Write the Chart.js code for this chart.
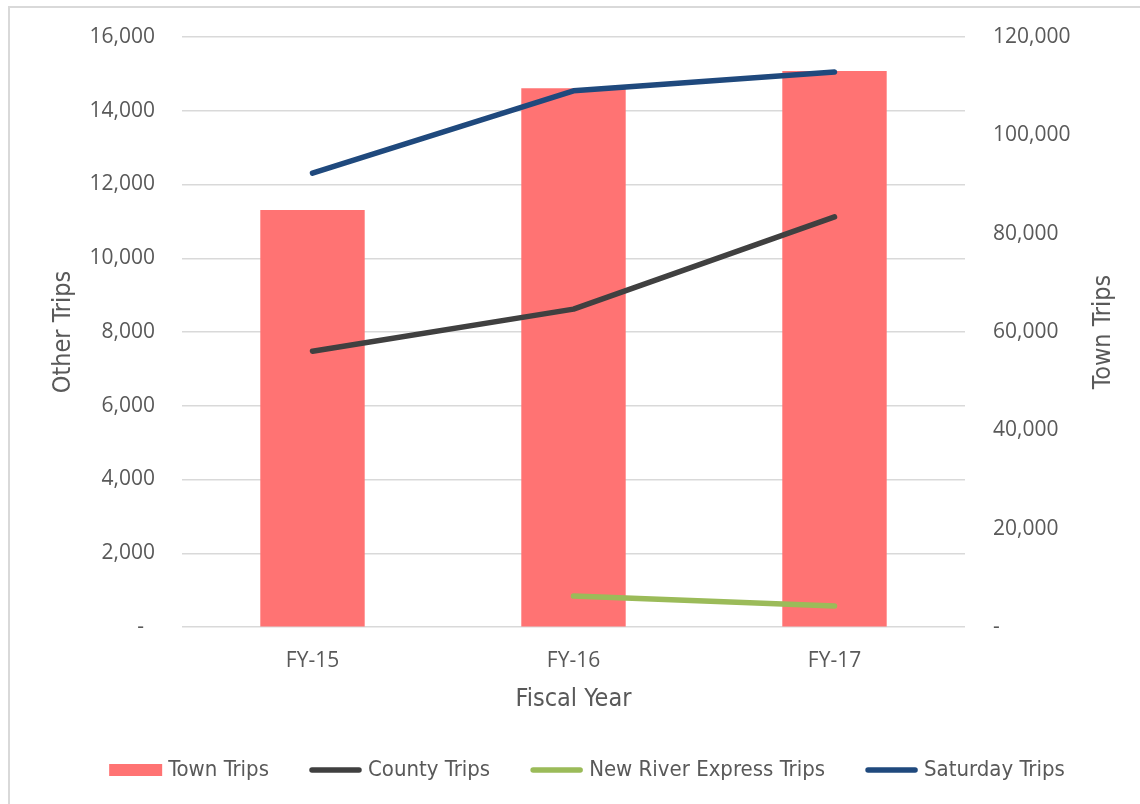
<!DOCTYPE html>
<html>
<head>
<meta charset="utf-8">
<script src="https://cdn.jsdelivr.net/npm/chart.js@4/dist/chart.umd.min.js"></script>
<style>
  html, body { margin: 0; padding: 0; background: #fff; overflow: hidden; }
  #wrap { position: relative; width: 1140px; height: 804px; }
  #frame { position: absolute; left: 8px; top: 6px; width: 1200px; height: 900px;
           border: 2px solid #d9d9d9; box-sizing: border-box; pointer-events: none; }
  canvas { position: absolute; left: 0; top: 0; }
</style>
</head>
<body>
<div id="wrap">
  <canvas id="chart" width="1140" height="804"></canvas>
  <div id="frame"></div>
</div>
<script>
// values
const years = ["FY-15", "FY-16", "FY-17"];
const townTrips = [84800, 109600, 113100];      // right axis
const countyTrips = [7480, 8620, 11120];        // left axis
const newRiverTrips = [null, 840, 570];
const saturdayTrips = [12310, 14540, 15050];

const leftTicks = [0, 2000, 4000, 6000, 8000, 10000, 12000, 14000, 16000];
const rightTicks = [0, 20000, 40000, 60000, 80000, 100000, 120000];

const tickFont = { family: "'Open Sans', 'Noto Sans', sans-serif", size: 21 };
const titleFont = { family: "'Liberation Sans Narrow', 'DejaVu Sans Condensed', sans-serif", size: 25 };
const legendFontSize = 22;
const grey = "#595959";

const fmt = (v) => v.toLocaleString("en-US");

const lineSet = (label, data, color) => ({
  type: "line",
  label: label,
  data: data,
  yAxisID: "y",
  borderColor: color,
  backgroundColor: color,
  borderWidth: 5.5,
  borderCapStyle: "round",
  borderJoinStyle: "round",
  pointRadius: 0,
  tension: 0,
  order: 0,
});

// right axis title reads bottom-to-top, like the left one
const rightTitle = {
  id: "rightTitle",
  afterDraw(chart) {
    const s = chart.scales.y1;
    const ctx = chart.ctx;
    ctx.save();
    ctx.translate(1103, (s.top + s.bottom) / 2);
    ctx.rotate(-Math.PI / 2);
    ctx.fillStyle = grey;
    ctx.font = titleFont.size + "px " + titleFont.family;
    ctx.textAlign = "center";
    ctx.textBaseline = "middle";
    ctx.fillText("Town Trips", 0, 0);
    ctx.restore();
  },
};

// excel-style legend: wide swatch, small gap, then the label
const excelLegend = {
  id: "excelLegend",
  afterDraw(chart) {
    const ctx = chart.ctx;
    const sw = 53, gap = 6, itemGap = 40, y = 770;
    ctx.save();
    ctx.font = legendFontSize + "px " + titleFont.family;
    const items = chart.data.datasets.map((d) => ({
      text: d.label,
      color: d.type === "bar" ? d.backgroundColor : d.borderColor,
      bar: d.type === "bar",
      w: ctx.measureText(d.label).width,
    }));
    let total = items.reduce((a, it) => a + sw + gap + it.w, 0) + itemGap * (items.length - 1);
    let x = 587 - total / 2;
    ctx.textBaseline = "middle";
    ctx.textAlign = "left";
    items.forEach((it) => {
      if (it.bar) {
        ctx.fillStyle = it.color;
        ctx.fillRect(x, y - 6, sw, 12);
      } else {
        ctx.strokeStyle = it.color;
        ctx.lineWidth = 5.5;
        ctx.lineCap = "round";
        ctx.beginPath();
        ctx.moveTo(x + 3, y);
        ctx.lineTo(x + sw - 3, y);
        ctx.stroke();
      }
      ctx.fillStyle = grey;
      ctx.fillText(it.text, x + sw + gap, y);
      x += sw + gap + it.w + itemGap;
    });
    ctx.restore();
  },
};

new Chart(document.getElementById("chart"), {
  data: {
    labels: years,
    datasets: [
      {
        type: "bar",
        label: "Town Trips",
        data: townTrips,
        yAxisID: "y1",
        backgroundColor: "#ff7373",
        borderWidth: 0,
        categoryPercentage: 1,
        barPercentage: 0.4,
        order: 1,
      },
      lineSet("County Trips", countyTrips, "#404040"),
      lineSet("New River Express Trips", newRiverTrips, "#9bbb59"),
      lineSet("Saturday Trips", saturdayTrips, "#1f497d"),
    ],
  },
  plugins: [rightTitle, excelLegend],
  options: {
    responsive: false,
    animation: false,
    layout: { autoPadding: false, padding: { top: 37, bottom: 76, left: 0, right: 0 } },
    plugins: {
      tooltip: { enabled: false },
      legend: { display: false },
    },
    scales: {
      x: {
        grid: { display: false },
        border: { display: false },
        ticks: { color: grey, font: tickFont, padding: 13 },
        title: { display: true, text: "Fiscal Year", color: grey, font: titleFont, padding: { top: 0, bottom: 14 } },
        afterFit: (s) => { s.height = 101; },
      },
      y: {
        position: "left",
        min: 0,
        max: 16000,
        afterBuildTicks: (s) => { s.ticks = leftTicks.map((v) => ({ value: v })); },
        // invisible tick marks hold the gap between labels and plot
        grid: { color: "#d9d9d9", lineWidth: 1.5, drawTicks: true, tickLength: 27, tickColor: "rgba(0,0,0,0)" },
        border: { display: false },
        ticks: {
          color: grey, font: tickFont, padding: 0,
          callback: (v) => (v === 0 ? "-  " : fmt(v)),
        },
        title: { display: true, text: "Other Trips", color: grey, font: titleFont, padding: { top: 48 } },
        afterFit: (s) => { s.width = 182; },
      },
      y1: {
        position: "right",
        min: 0,
        max: 120000,
        afterBuildTicks: (s) => { s.ticks = rightTicks.map((v) => ({ value: v })); },
        grid: { display: true, drawOnChartArea: false, drawTicks: true, tickLength: 28, tickColor: "rgba(0,0,0,0)" },
        border: { display: false },
        ticks: {
          color: grey, font: tickFont, padding: 0,
          callback: (v) => (v === 0 ? "-" : fmt(v)),
        },
        title: { display: false },
        afterFit: (s) => { s.width = 175; },
      },
    },
  },
});
</script>
</body>
</html>
